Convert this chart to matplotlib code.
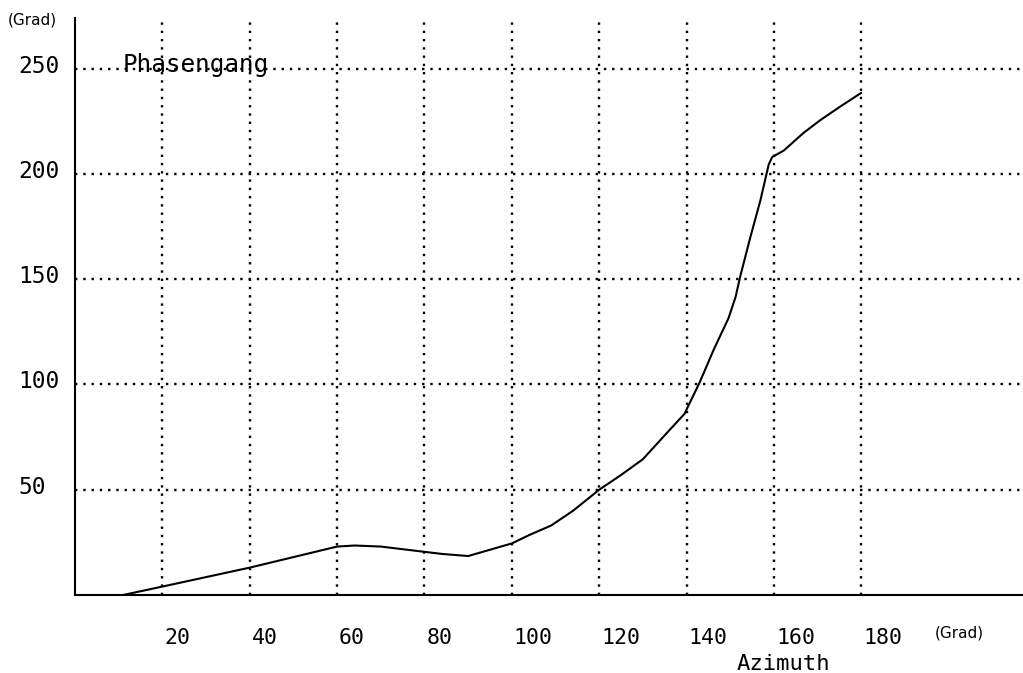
import matplotlib
matplotlib.use("Agg")
import matplotlib.pyplot as plt
from matplotlib.transforms import ScaledTranslation

# Data
azimuth = [11, 20, 40, 60, 64, 70, 80, 84, 90, 100, 104, 109, 114, 120, 125, 130, 135.5, 139.5,
           143, 146.2, 149.6, 151.2, 152.3, 154.6, 156.9, 158.8, 159.6, 162.2, 166.8, 170.6, 175.2, 180]
phase = [0, 4, 13, 23, 23.5, 23, 20.5, 19.5, 18.5, 24.5, 28.5, 33, 40, 50, 57, 64.5, 77, 86,
         101, 116.5, 131.5, 141.5, 151.5, 170, 187.5, 204.5, 208, 211, 219.5, 225.5, 232, 238.5]

x_ticks = [20, 40, 60, 80, 100, 120, 140, 160, 180]
x_tick_labels = ["20", "40", "60", "80", "100", "120", "140", "160", "180"]
y_ticks = [50, 100, 150, 200, 250]
y_tick_labels = ["50", "100", "150", "200", "250"]

DPI = 100
fig = plt.figure(figsize=(10.23, 6.73), dpi=DPI)
ax = fig.add_axes([75 / 1023, 78 / 673, (1023 - 75) / 1023, (595 - 18) / 673])

ax.plot(azimuth, phase, color="black", lw=1.5, zorder=3, solid_capstyle="round",
        solid_joinstyle="round")

ax.set_xlim(0, 217)
ax.set_ylim(0, 274)

mono = "DejaVu Sans Mono"

ax.set_xticks(x_ticks)
ax.set_xticklabels(x_tick_labels, fontfamily=mono, fontsize=15.5)
ax.set_yticks(y_ticks)
ax.set_yticklabels(y_tick_labels, fontfamily=mono, fontsize=16.5)
ax.tick_params(axis="x", length=0, pad=24)
ax.tick_params(axis="y", length=0, pad=41)

for lab in ax.get_xticklabels():
    lab.set_horizontalalignment("left")
    lab.set_transform(lab.get_transform() + ScaledTranslation(2 / DPI, 0, fig.dpi_scale_trans))
for lab in ax.get_yticklabels():
    lab.set_horizontalalignment("left")
    lab.set_transform(lab.get_transform() + ScaledTranslation(0, 5 / DPI, fig.dpi_scale_trans))

ax.grid(True, color="black", linestyle=(0, (1, 2.5)), linewidth=1.7, zorder=1)
ax.set_axisbelow(True)

for s in ["top", "right"]:
    ax.spines[s].set_visible(False)
for s in ["left", "bottom"]:
    ax.spines[s].set_linewidth(1.5)

# Annotations
ax.text(11, 251.5, "Phasengang", fontfamily=mono, fontsize=17.5, ha="left", va="center", zorder=2)
fig.text(8 / 1023, 1 - 20 / 673, "(Grad)", fontsize=11, ha="left", va="center")
fig.text(935 / 1023, 1 - 633 / 673, "(Grad)", fontsize=11, ha="left", va="center")
fig.text(783 / 1023, 1 - 664 / 673, "Azimuth", fontfamily=mono, fontsize=16, ha="center", va="center")

fig.savefig("out.png", dpi=DPI)
